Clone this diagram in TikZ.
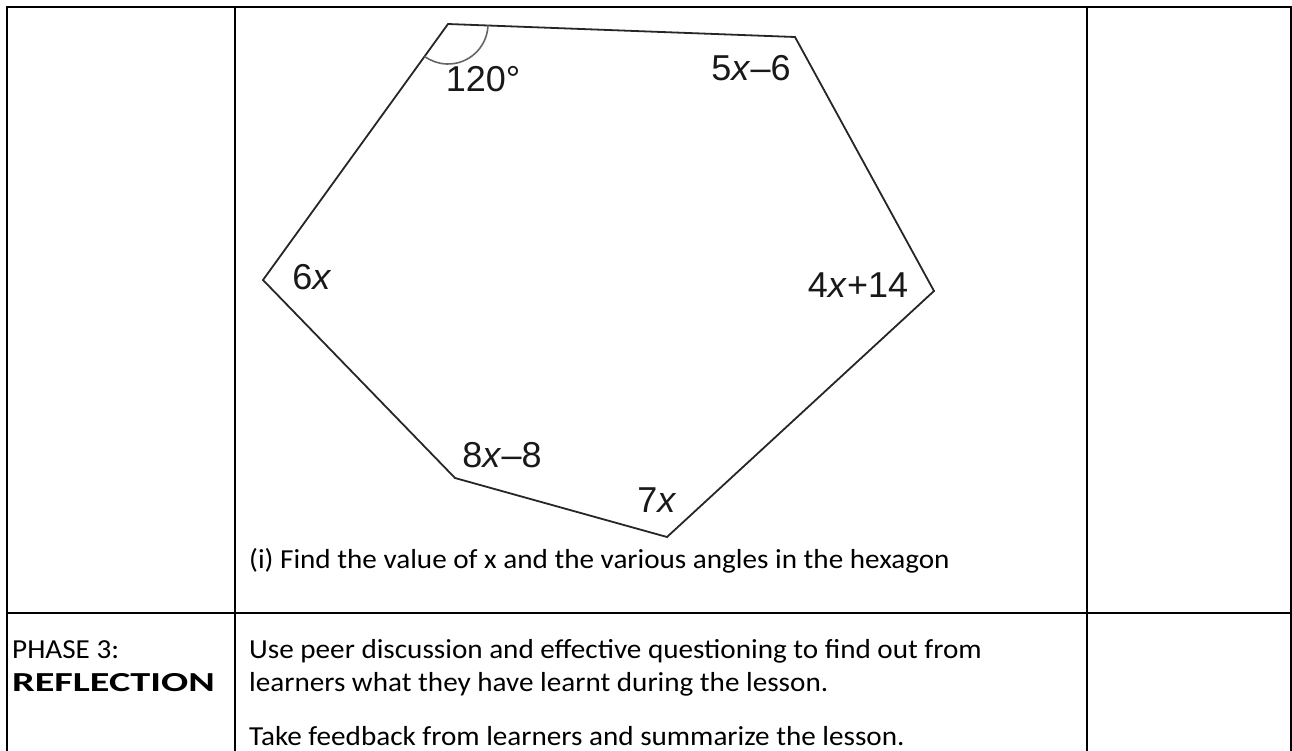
\documentclass[tikz,border=0pt]{standalone}
\usepackage{fontspec}
\setmainfont{Carlito}[FakeStretch=1.06]
\newfontfamily\labelfont{Liberation Sans}
\begin{document}
\begin{tikzpicture}[x=1pt,y=-1pt,
  grid/.style={line width=2.6pt, line cap=rect},
  thingrid/.style={line width=1.6pt},
  edge/.style={line width=1.8pt, draw=black!85, line join=miter},
  arcline/.style={line width=1.6pt, draw=black!60},
  anglab/.style={font=\labelfont\fontsize{36}{36}\selectfont, text=black!90, inner sep=0pt},
  body/.style={font=\fontsize{27.5}{33}\selectfont, inner sep=0pt, anchor=base west},
]
\useasboundingbox (0,0) rectangle (1292,750);
% table grid
\coordinate (tl) at (7,7);
\coordinate (bl) at (7,750);
\coordinate (c1t) at (235,7);
\coordinate (c1b) at (235,750);
\coordinate (c2t) at (1087,7);
\coordinate (c2b) at (1087,750);
\coordinate (tr) at (1291,7);
\coordinate (br) at (1291,750);
\coordinate (ta) at (248,7);
\coordinate (tb) at (948,7);
\coordinate (rl) at (7,613);
\coordinate (rr) at (1291,613);
\draw[grid] (bl) -- (tl) -- (ta);
\draw[thingrid] (ta) -- (tb);
\draw[grid] (tb) -- (tr) -- (br);
\draw[grid] (c1t) -- (c1b);
\draw[grid] (c2t) -- (c2b);
\draw[thingrid] (rl) -- (rr);
% hexagon
\coordinate (A) at (448,24);
\coordinate (B) at (795,37);
\coordinate (C) at (934,291);
\coordinate (D) at (667,537);
\coordinate (E) at (455,478);
\coordinate (F) at (263,280);
\draw[edge] (A) -- (B) -- (C) -- (D) -- (E) -- (F) -- cycle;
\draw[arcline] (A) ++(2.1:40) arc[start angle=2.1, end angle=125.9, radius=40];
% angle labels
\node[anglab] (l120) at (483,79) {120°};
\node[anglab] (l5x) at (751,68) {5\textit{x}–6};
\node[anglab] (l6x) at (312,277) {6\textit{x}};
\node[anglab] (l4x) at (858,285) {4\textit{x}+14};
\node[anglab] (l8x) at (502,455) {8\textit{x}–8};
\node[anglab] (l7x) at (657,500) {7\textit{x}};
% texts
\node[body] (q) at (249,568) {(i) Find the value of x and the various angles in the hexagon};
\node[body] (ph) at (12,658) {PHASE 3:};
\node[body] (rf) at (12,691) {\scalebox{1.38}[1]{\bfseries REFLECTION}};
\node[body] (u1) at (249,658) {Use peer discussion and effective questioning to find out from};
\node[body] (u2) at (249,691) {learners what they have learnt during the lesson.};
\node[body] (u3) at (249,745) {Take feedback from learners and summarize the lesson.};
\end{tikzpicture}
\end{document}
